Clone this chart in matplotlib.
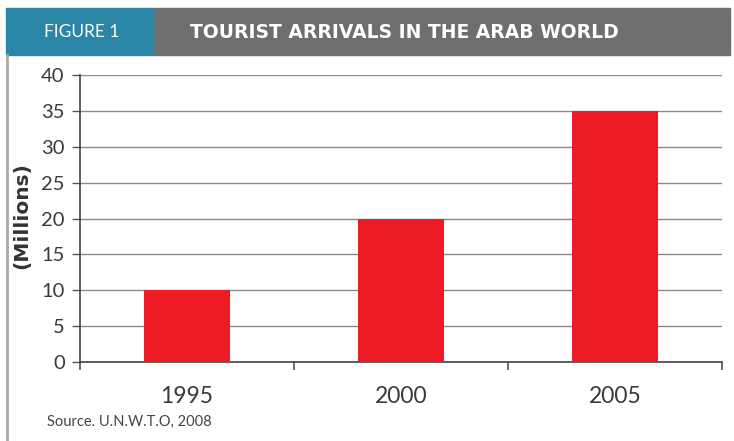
import matplotlib
matplotlib.use("Agg")
import matplotlib.pyplot as plt
from matplotlib.patches import Rectangle
from matplotlib.lines import Line2D

# tourist arrivals (millions)
years = ["1995", "2000", "2005"]
arrivals = [10, 20, 35]
y_ticks = [0, 5, 10, 15, 20, 25, 30, 35, 40]

W, H = 734, 441
fig = plt.figure(figsize=(W / 100, H / 100), dpi=100)

def fx(px):
    return px / W

def fy(py):
    return 1 - py / H

# header band
fig.patches.append(Rectangle((fx(6), fy(55)), fx(154) - fx(6), fy(8) - fy(55),
                             transform=fig.transFigure, color="#2A86A6", zorder=0))
fig.patches.append(Rectangle((fx(154), fy(55)), fx(730) - fx(154), fy(8) - fy(55),
                             transform=fig.transFigure, color="#6D6E70", zorder=0))
fig.text(fx(82), fy(32), "FIGURE 1", color="white", fontsize=12.5, family="Lato",
         ha="center", va="center")
fig.text(fx(404), fy(32), "TOURIST ARRIVALS IN THE ARAB WORLD", color="white",
         fontsize=13.5, fontweight="bold", family="DejaVu Sans", ha="center", va="center")

# left frame line
fig.lines.append(Line2D([fx(6.5), fx(6.5)], [fy(55), 0], transform=fig.transFigure,
                        color="#A8A8A8", lw=2))

ax = fig.add_axes([fx(80), fy(362), fx(722) - fx(80), fy(75) - fy(362)])
x = range(len(years))
ax.bar(x, arrivals, width=0.4, color="#ED1C24", zorder=3)

ax.set_xlim(-0.5, 2.5)
ax.set_ylim(0, 40)
ax.set_yticks(y_ticks)
ax.yaxis.grid(True, color="#8A8A8A", lw=1, zorder=0)
ax.set_axisbelow(True)

ax.set_xticks(list(x))
ax.set_xticklabels(years, family="Lato", fontsize=16.5, color="#3A3A3A")
ax.set_xticks([-0.5, 0.5, 1.5, 2.5], minor=True)
ax.tick_params(axis="x", which="major", length=0, pad=17)
ax.tick_params(axis="x", which="minor", length=6, width=1.2, color="#555555")
ax.tick_params(axis="y", length=6, width=1, color="#555555", pad=5,
               labelsize=14.5, labelcolor="#3A3A3A")
for lbl in ax.get_yticklabels():
    lbl.set_family("Lato")

for s in ["top", "right"]:
    ax.spines[s].set_visible(False)
for s in ["left", "bottom"]:
    ax.spines[s].set_color("#444444")
    ax.spines[s].set_linewidth(1.2)

fig.text(fx(22), fy(216), "(Millions)", rotation=90, fontsize=14.5, fontweight="bold",
         color="#333333", ha="center", va="center")
fig.text(fx(47), fy(422), "Source. U.N.W.T.O, 2008", fontsize=10.5, family="Lato",
         color="#444444", ha="left", va="center")

fig.savefig("out.png", dpi=100)
